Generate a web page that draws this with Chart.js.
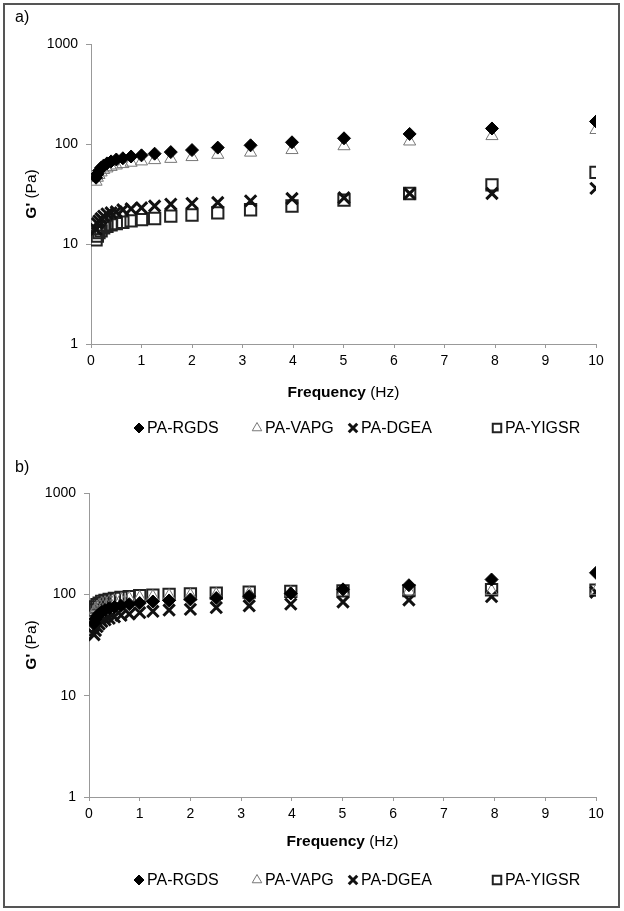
<!DOCTYPE html>
<html lang="en">
<head>
    <meta charset="UTF-8">
    <title>G' vs Frequency</title>
    <script src="https://cdn.jsdelivr.net/npm/chart.js"></script>
    <style>
        body {
            margin: 0;
            background: #fff;
            width: 624px;
            height: 911px;
            position: relative;
            overflow: hidden;
        }
        .frame {
            position: absolute;
            left: 3px;
            top: 3px;
            width: 613px;
            height: 901px;
            border: 2px solid #555;
        }
        canvas {
            position: absolute;
            left: 0;
        }
        #chartA { top: 0; }
        #chartB { top: 455px; }
    </style>
</head>
<body>
    <div class="frame"></div>
    <canvas id="chartA" width="624" height="455"></canvas>
    <canvas id="chartB" width="624" height="456"></canvas>

    <script>
        // frequency sweep (Hz), same for every series
        const freq = [0.1, 0.126, 0.158, 0.2, 0.251, 0.316, 0.398, 0.501, 0.631, 0.794,
                      1, 1.26, 1.58, 2, 2.51, 3.16, 3.98, 5.01, 6.31, 7.94, 10];

        const seriesNames = ['PA-RGDS', 'PA-VAPG', 'PA-DGEA', 'PA-YIGSR'];
        const xTicks = [0, 1, 2, 3, 4, 5, 6, 7, 8, 9, 10];
        const yTicks = [1, 10, 100, 1000];

        // panel a) G' (Pa)
        const aRGDS  = [46, 50, 54, 58, 61, 64, 67, 70, 72, 75, 77, 80, 83, 87, 92, 97, 104, 114, 126, 143, 168];
        const aVAPG  = [42, 46, 49, 52, 55, 57, 59, 61, 63, 65, 67, 69, 71, 74, 78, 82, 87, 95, 106, 120, 138];
        const aDGEA  = [14, 16, 17, 18, 19, 20, 20.5, 21, 22, 22.5, 23, 24, 25, 25.5, 26, 27, 28.5, 29, 32, 32, 36];
        const aYIGSR = [11, 12, 13, 13.5, 14.5, 15, 15.5, 16, 16.5, 17, 17.5, 18, 19, 19.5, 20.5, 22, 24, 27.5, 32, 39, 52];

        // panel b) G' (Pa)
        const bRGDS  = [52, 57, 61, 64, 67, 70, 73, 75, 77, 80, 82, 85, 87, 89, 92, 96, 102, 112, 123, 140, 163];
        const bVAPG  = [66, 71, 75, 78, 81, 83, 85, 87, 89, 91, 93, 95, 97, 98, 100, 102, 104, 106, 107, 108, 108];
        const bDGEA  = [40, 44, 48, 51, 54, 56, 58, 60, 62, 64, 66, 68, 70, 71, 74, 77, 80, 84, 88, 95, 105];
        const bYIGSR = [70, 75, 79, 82, 85, 87, 89, 91, 93, 95, 97, 98, 100, 101, 103, 105, 107, 108, 109, 111, 110];

        const FONT = '"Liberation Sans", Arial, sans-serif';

        // marker look for each series (Excel-like)
        const markers = [
            { pointStyle: 'rectRot',  pointRadius: 6.5, backgroundColor: '#000', borderColor: '#000', borderWidth: 1, legendRadius: 5 },
            { pointStyle: 'triangle', pointRadius: 7,   backgroundColor: 'rgba(0,0,0,0)', borderColor: '#777', borderWidth: 1, legendRadius: 5.5 },
            { pointStyle: 'crossRot', pointRadius: 8,   backgroundColor: '#000', borderColor: '#111', borderWidth: 3, legendRadius: 6 },
            { pointStyle: 'rect',     pointRadius: 8,   backgroundColor: 'rgba(0,0,0,0)', borderColor: '#222', borderWidth: 2, legendRadius: 6 }
        ];

        function makeDatasets(lists) {
            return lists.map((vals, i) => ({
                label: seriesNames[i],
                data: freq.map((f, j) => ({ x: f, y: vals[j] })),
                pointStyle: markers[i].pointStyle,
                pointRadius: markers[i].pointRadius,
                pointHoverRadius: markers[i].pointRadius,
                backgroundColor: markers[i].backgroundColor,
                borderColor: markers[i].borderColor,
                borderWidth: markers[i].borderWidth,
                showLine: false
            }));
        }

        // draws panel tag, axis titles (bold + regular parts) and the legend row
        const panelText = {
            id: 'panelText',
            afterDraw(chart, args, opts) {
                const ctx = chart.ctx;
                const area = chart.chartArea;
                ctx.save();
                ctx.fillStyle = '#000';
                ctx.textBaseline = 'middle';

                ctx.font = '16px ' + FONT;
                ctx.textAlign = 'left';
                ctx.fillText(opts.tag, 15, opts.tagY);

                function mixed(bold, plain, cx, cy) {
                    ctx.font = 'bold 15.5px ' + FONT;
                    const wb = ctx.measureText(bold).width;
                    ctx.font = '15.5px ' + FONT;
                    const wp = ctx.measureText(plain).width;
                    let x = cx - (wb + wp) / 2;
                    ctx.textAlign = 'left';
                    ctx.font = 'bold 15.5px ' + FONT;
                    ctx.fillText(bold, x, cy);
                    ctx.font = '15.5px ' + FONT;
                    ctx.fillText(plain, x + wb, cy);
                }

                mixed('Frequency', ' (Hz)', (area.left + area.right) / 2, opts.xTitleY);

                ctx.save();
                ctx.translate(opts.yTitleX, (area.top + area.bottom) / 2);
                ctx.rotate(-Math.PI / 2);
                mixed("G'", ' (Pa)', 0, 0);
                ctx.restore();

                // legend
                const legendX = [139, 257, 353, 497];
                chart.data.datasets.forEach((ds, i) => {
                    const m = markers[i];
                    ctx.fillStyle = m.backgroundColor;
                    ctx.strokeStyle = m.borderColor;
                    ctx.lineWidth = m.borderWidth;
                    Chart.helpers.drawPoint(ctx, {
                        pointStyle: m.pointStyle,
                        radius: m.legendRadius,
                        borderWidth: m.borderWidth,
                        rotation: 0
                    }, legendX[i], opts.legendY);
                    ctx.fillStyle = '#000';
                    ctx.font = '16px ' + FONT;
                    ctx.textAlign = 'left';
                    ctx.fillText(ds.label, legendX[i] + 8, opts.legendY + 1);
                });
                ctx.restore();
            }
        };

        function makeChart(id, lists, cfg) {
            return new Chart(document.getElementById(id), {
                type: 'scatter',
                data: { datasets: makeDatasets(lists) },
                plugins: [panelText],
                options: {
                    responsive: false,
                    animation: false,
                    events: [],
                    layout: { padding: { top: cfg.top, right: 28, left: 0, bottom: 0 } },
                    plugins: {
                        legend: { display: false },
                        tooltip: { enabled: false },
                        panelText: cfg.text
                    },
                    scales: {
                        x: {
                            type: 'linear',
                            min: 0,
                            max: 10,
                            afterBuildTicks: s => { s.ticks = xTicks.map(v => ({ value: v })); },
                            afterFit: s => { s.height = cfg.xHeight; },
                            grid: { drawOnChartArea: false, drawTicks: true, tickLength: 4, color: '#999' },
                            border: { color: '#999', width: 1 },
                            ticks: { color: '#000', padding: 5, maxRotation: 0, font: { family: FONT, size: 14 } }
                        },
                        y: {
                            type: 'logarithmic',
                            min: 1,
                            max: 1000,
                            afterBuildTicks: s => { s.ticks = yTicks.map(v => ({ value: v })); },
                            afterFit: s => { s.width = cfg.yWidth; },
                            grid: { drawOnChartArea: false, drawTicks: true, tickLength: 5, color: '#999' },
                            border: { color: '#999', width: 1 },
                            ticks: { color: '#000', padding: 8, font: { family: FONT, size: 14 }, callback: v => String(v) }
                        }
                    }
                }
            });
        }

        makeChart('chartA', [aRGDS, aVAPG, aDGEA, aYIGSR], {
            top: 44, xHeight: 111, yWidth: 91,
            text: { tag: 'a)', tagY: 18, xTitleY: 393, yTitleX: 32, legendY: 428 }
        });

        makeChart('chartB', [bRGDS, bVAPG, bDGEA, bYIGSR], {
            top: 38, xHeight: 114, yWidth: 89,
            text: { tag: 'b)', tagY: 13, xTitleY: 387, yTitleX: 32, legendY: 425 }
        });
    </script>
</body>
</html>
